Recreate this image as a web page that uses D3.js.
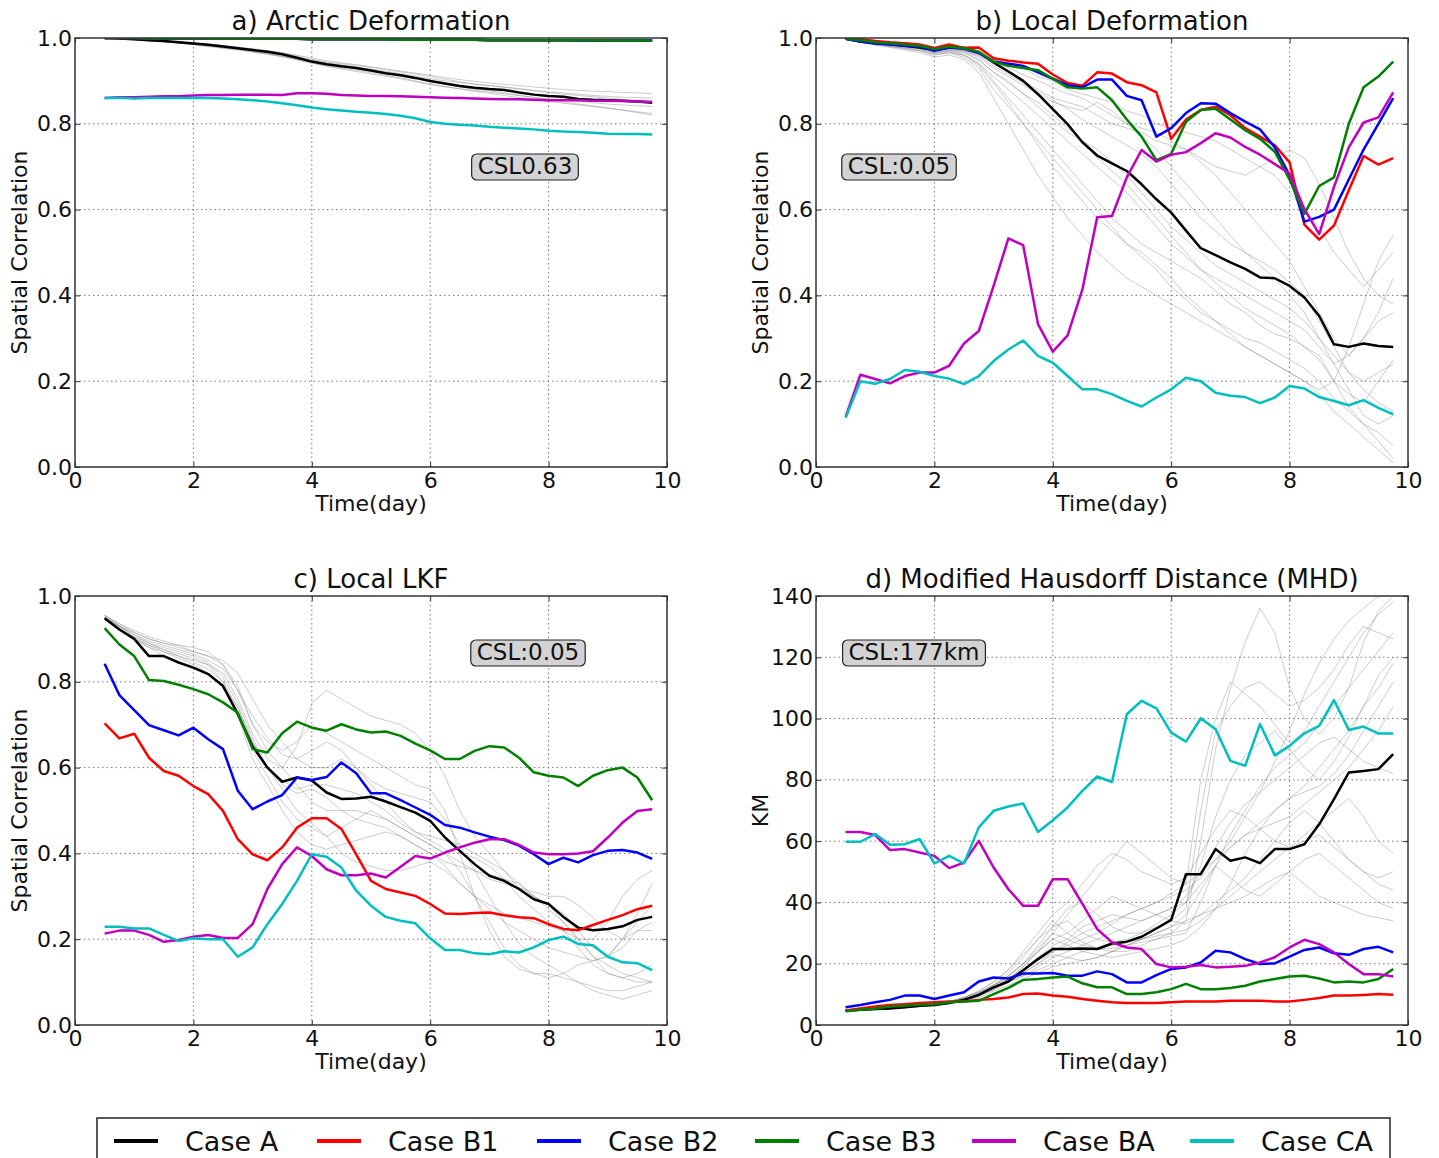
<!DOCTYPE html>
<html>
<head>
<meta charset="utf-8">
<script src="https://cdn.jsdelivr.net/npm/d3@7"></script>
<style>
  body { margin: 0; background: #fff; }
  text { font-family: "DejaVu Sans", sans-serif; fill: #111; }
</style>
</head>
<body>
<svg id="fig" width="1439" height="1158"></svg>
<script>
// time axis (days), one sample every 6 h
var times = [0.5,0.75,1,1.25,1.5,1.75,2,2.25,2.5,2.75,3,3.25,3.5,3.75,4,4.25,4.5,4.75,5,5.25,5.5,5.75,6,6.25,6.5,6.75,7,7.25,7.5,7.75,8,8.25,8.5,8.75,9,9.25,9.5,9.75];

var caseNames  = ['Case A','Case B1','Case B2','Case B3','Case BA','Case CA'];
var caseColors = ['#000000','#ff0000','#0000ff','#008000','#bf00bf','#00bfbf'];

var xTicks = [0,2,4,6,8,10];
var corrTicks = [0,0.2,0.4,0.6,0.8,1.0];
var kmTicks = [0,20,40,60,80,100,120,140];

// a) Arctic Deformation
var aA  = [1,.999,.997,.995,.993,.99,.987,.984,.98,.976,.972,.968,.962,.954,.945,.939,.934,.93,.924,.918,.913,.907,.9,.894,.888,.884,.881,.879,.873,.868,.865,.863,.858,.856,.855,.854,.852,.849];
var aB1 = [1,1,1,.999,.999,.999,.999,.999,.998,.998,.998,.998,.998,.998,.997,.997,.997,.997,.997,.997,.996,.996,.996,.996,.996,.996,.995,.995,.995,.995,.995,.995,.994,.994,.994,.994,.994,.994];
var aB2 = [1,1,1,.999,.999,.999,.999,.999,.998,.998,.998,.998,.998,.998,.997,.997,.997,.997,.997,.997,.996,.996,.996,.996,.996,.996,.995,.995,.995,.995,.995,.995,.994,.994,.994,.994,.994,.994];
var aB3 = [1,1,1,.999,.999,.999,.999,.999,.998,.998,.998,.998,.998,.998,.997,.997,.997,.997,.997,.997,.996,.996,.996,.996,.996,.996,.995,.995,.995,.995,.995,.995,.995,.995,.994,.994,.994,.994];
var aBA = [.86,.862,.862,.863,.864,.864,.866,.867,.867,.868,.868,.868,.867,.871,.871,.87,.867,.866,.865,.865,.864,.863,.862,.861,.86,.859,.858,.857,.857,.856,.855,.855,.855,.854,.854,.853,.852,.851];
var aCA = [.86,.861,.859,.86,.86,.86,.86,.86,.859,.857,.855,.852,.848,.843,.838,.834,.831,.828,.826,.823,.819,.813,.804,.8,.798,.796,.793,.791,.789,.787,.784,.782,.781,.779,.777,.776,.776,.775];
var aGrey = [
  [1,.999,.998,.996,.994,.992,.989,.986,.983,.979,.975,.971,.966,.96,.953,.947,.942,.938,.933,.928,.923,.918,.913,.908,.903,.899,.895,.892,.889,.886,.883,.88,.878,.876,.875,.873,.872,.87],
  [1,.998,.996,.994,.991,.988,.985,.981,.977,.973,.968,.963,.957,.95,.942,.935,.93,.925,.919,.913,.907,.9,.893,.887,.881,.876,.871,.866,.861,.857,.852,.848,.844,.84,.836,.832,.828,.824],
  [1,.999,.997,.995,.993,.991,.988,.985,.982,.978,.974,.97,.965,.958,.95,.944,.94,.936,.931,.926,.921,.916,.91,.904,.898,.893,.889,.886,.882,.878,.874,.872,.869,.866,.864,.862,.861,.86],
  [1,.998,.996,.993,.991,.988,.984,.98,.976,.972,.967,.962,.956,.949,.941,.934,.928,.922,.916,.911,.905,.898,.891,.886,.882,.878,.874,.87,.866,.862,.858,.855,.852,.849,.846,.844,.842,.84],
  [1,.999,.997,.995,.992,.989,.986,.983,.98,.976,.971,.966,.961,.955,.948,.942,.937,.932,.927,.922,.917,.911,.905,.9,.896,.892,.889,.885,.881,.877,.873,.869,.866,.863,.86,.857,.855,.853],
  [1,.998,.997,.994,.992,.989,.986,.982,.978,.974,.969,.964,.958,.951,.944,.938,.933,.928,.922,.917,.911,.905,.899,.892,.886,.881,.877,.872,.866,.861,.856,.851,.846,.842,.837,.832,.826,.82]
];

// b) Local Deformation
var bA  = [.998,.992,.988,.986,.982,.978,.972,.978,.977,.967,.943,.922,.9,.869,.834,.799,.757,.726,.708,.69,.659,.624,.593,.551,.51,.494,.477,.462,.442,.44,.422,.395,.352,.286,.28,.288,.282,.28];
var bB1 = [.998,.997,.993,.99,.988,.985,.977,.985,.977,.978,.953,.947,.943,.94,.915,.895,.889,.92,.917,.897,.89,.873,.765,.81,.832,.84,.82,.79,.77,.75,.71,.565,.53,.563,.645,.725,.705,.72];
var bB2 = [.998,.992,.988,.985,.982,.98,.97,.978,.975,.965,.945,.94,.935,.92,.905,.89,.885,.903,.903,.865,.855,.77,.79,.825,.848,.847,.825,.805,.787,.745,.68,.572,.583,.6,.67,.74,.8,.86];
var bB3 = [.998,.995,.99,.988,.985,.982,.974,.98,.976,.968,.945,.935,.93,.925,.905,.885,.882,.885,.855,.81,.77,.715,.73,.805,.832,.835,.81,.785,.765,.735,.67,.59,.655,.675,.8,.885,.91,.945];
var bBA = [.117,.215,.205,.195,.212,.22,.22,.236,.288,.317,.422,.533,.517,.333,.269,.307,.414,.582,.585,.675,.739,.712,.728,.734,.755,.778,.768,.746,.728,.706,.684,.601,.543,.653,.745,.803,.815,.873];
var bCA = [.115,.2,.194,.205,.226,.222,.212,.206,.193,.212,.247,.274,.295,.259,.243,.212,.181,.181,.17,.154,.141,.162,.181,.208,.2,.173,.166,.163,.149,.162,.189,.183,.163,.154,.144,.156,.138,.123];
var bGrey = [
  [.998,.99,.985,.98,.975,.97,.96,.965,.955,.93,.88,.84,.8,.76,.72,.68,.64,.6,.56,.52,.49,.46,.42,.39,.36,.34,.32,.3,.29,.27,.25,.23,.2,.16,.13,.1,.06,.02],
  [.998,.992,.988,.984,.98,.976,.968,.972,.968,.95,.92,.9,.87,.85,.82,.79,.76,.72,.69,.66,.62,.58,.54,.5,.46,.43,.4,.37,.35,.33,.31,.28,.25,.2,.17,.15,.2,.25],
  [.999,.995,.99,.988,.985,.98,.975,.978,.975,.965,.95,.94,.93,.91,.9,.88,.87,.86,.85,.83,.82,.8,.79,.78,.77,.76,.74,.72,.7,.72,.74,.72,.66,.58,.5,.44,.4,.38],
  [.998,.99,.984,.98,.976,.97,.962,.966,.96,.94,.9,.86,.82,.78,.74,.7,.66,.62,.58,.55,.52,.5,.48,.46,.44,.41,.38,.36,.33,.31,.3,.28,.26,.2,.14,.1,.08,.05],
  [.999,.994,.99,.986,.982,.978,.97,.975,.97,.955,.93,.91,.89,.87,.85,.84,.83,.85,.83,.8,.77,.74,.7,.66,.62,.58,.54,.5,.47,.44,.4,.36,.3,.24,.18,.12,.1,.12],
  [.998,.992,.986,.982,.978,.974,.965,.97,.962,.94,.91,.88,.85,.82,.79,.76,.73,.7,.67,.64,.6,.56,.52,.49,.46,.44,.42,.4,.38,.36,.34,.32,.28,.24,.26,.3,.34,.36],
  [.999,.993,.989,.985,.981,.977,.972,.976,.972,.96,.94,.92,.9,.88,.86,.85,.84,.82,.8,.79,.78,.76,.75,.74,.72,.7,.69,.68,.7,.68,.64,.6,.56,.5,.46,.42,.46,.5],
  [.998,.991,.985,.981,.977,.972,.964,.968,.96,.935,.895,.85,.8,.75,.7,.66,.62,.58,.55,.52,.5,.47,.44,.4,.37,.34,.31,.28,.26,.24,.22,.2,.17,.13,.1,.07,.04,.01],
  [.999,.994,.99,.986,.983,.979,.971,.974,.97,.958,.935,.915,.895,.875,.855,.835,.81,.79,.77,.75,.73,.7,.66,.62,.58,.55,.52,.5,.48,.46,.43,.4,.34,.28,.22,.2,.22,.24],
  [.998,.992,.987,.983,.979,.975,.967,.971,.966,.948,.92,.895,.87,.84,.81,.78,.76,.74,.71,.68,.64,.6,.56,.53,.5,.47,.45,.43,.41,.39,.37,.34,.3,.26,.22,.18,.15,.13],
  [.998,.99,.984,.978,.972,.966,.956,.96,.95,.92,.86,.8,.74,.68,.63,.58,.54,.5,.47,.44,.42,.4,.38,.36,.34,.32,.3,.28,.26,.24,.22,.2,.18,.2,.28,.38,.48,.54],
  [.999,.995,.991,.987,.984,.98,.974,.977,.973,.962,.945,.93,.915,.9,.885,.87,.86,.84,.82,.8,.79,.78,.76,.74,.71,.68,.64,.6,.56,.52,.48,.42,.36,.3,.26,.3,.36,.44]
];

// c) Local LKF
var cA  = [.948,.922,.9,.86,.86,.845,.833,.818,.79,.725,.65,.6,.567,.577,.57,.542,.527,.528,.532,.521,.508,.495,.476,.437,.406,.375,.348,.336,.317,.293,.282,.252,.227,.221,.224,.23,.245,.252];
var cB1 = [.703,.668,.679,.623,.592,.581,.557,.538,.499,.433,.398,.384,.414,.46,.482,.482,.457,.398,.336,.317,.309,.301,.282,.26,.259,.261,.262,.256,.251,.249,.235,.224,.221,.233,.245,.256,.27,.278];
var cB2 = [.842,.769,.734,.699,.687,.675,.693,.666,.643,.546,.503,.521,.536,.577,.571,.578,.612,.587,.54,.54,.524,.507,.49,.466,.46,.449,.439,.431,.418,.398,.375,.39,.379,.396,.406,.408,.402,.387];
var cB3 = [.925,.887,.86,.804,.802,.793,.783,.771,.752,.728,.643,.635,.68,.707,.693,.686,.701,.689,.682,.684,.674,.656,.64,.62,.62,.639,.65,.647,.623,.589,.581,.577,.557,.581,.594,.6,.577,.524];
var cBA = [.213,.22,.22,.21,.194,.198,.206,.21,.203,.203,.235,.317,.375,.414,.394,.363,.349,.349,.353,.344,.369,.394,.388,.402,.414,.425,.433,.433,.42,.402,.398,.398,.4,.405,.437,.472,.499,.503];
var cCA = [.229,.229,.225,.225,.21,.196,.202,.2,.2,.159,.181,.235,.282,.336,.398,.392,.367,.313,.278,.252,.243,.237,.202,.175,.175,.167,.165,.172,.169,.181,.198,.206,.189,.186,.159,.146,.144,.128];
var cGrey = [
  [.955,.93,.91,.89,.875,.86,.845,.83,.8,.74,.66,.6,.56,.54,.55,.53,.5,.48,.47,.46,.44,.42,.4,.37,.33,.3,.27,.24,.22,.2,.18,.17,.16,.15,.16,.2,.24,.28],
  [.95,.93,.915,.9,.89,.885,.88,.87,.84,.78,.7,.66,.64,.66,.7,.68,.66,.64,.62,.6,.58,.56,.55,.5,.4,.3,.22,.16,.13,.12,.12,.11,.1,.09,.08,.08,.09,.1],
  [.945,.925,.9,.88,.87,.86,.85,.84,.82,.76,.68,.62,.6,.65,.75,.78,.76,.74,.72,.71,.7,.68,.64,.58,.5,.44,.4,.36,.32,.3,.28,.26,.22,.18,.16,.18,.22,.24],
  [.95,.92,.9,.885,.87,.855,.84,.82,.79,.72,.62,.56,.5,.45,.42,.41,.42,.43,.44,.45,.44,.42,.4,.38,.37,.36,.35,.34,.33,.3,.28,.24,.2,.16,.14,.12,.11,.1],
  [.955,.935,.92,.905,.895,.885,.87,.86,.85,.82,.76,.7,.66,.62,.6,.6,.62,.6,.56,.52,.48,.45,.43,.41,.4,.39,.37,.34,.3,.27,.24,.22,.18,.14,.12,.11,.12,.14],
  [.948,.928,.905,.89,.88,.87,.86,.845,.81,.75,.67,.6,.55,.5,.47,.44,.4,.38,.37,.36,.36,.37,.38,.36,.33,.3,.28,.26,.25,.24,.23,.22,.2,.2,.24,.3,.34,.36],
  [.952,.93,.91,.895,.885,.875,.865,.85,.83,.78,.72,.67,.63,.62,.64,.66,.64,.6,.57,.55,.54,.53,.52,.48,.42,.36,.3,.24,.19,.16,.14,.12,.1,.08,.07,.06,.07,.08],
  [.95,.93,.905,.885,.875,.865,.855,.84,.8,.73,.64,.58,.52,.48,.46,.44,.46,.48,.5,.48,.46,.44,.42,.4,.38,.36,.34,.33,.32,.31,.3,.3,.28,.25,.22,.2,.22,.22],
  [.955,.935,.915,.9,.89,.88,.87,.86,.84,.79,.7,.64,.6,.56,.52,.5,.5,.5,.49,.48,.46,.44,.42,.4,.36,.3,.24,.18,.14,.12,.11,.12,.14,.15,.16,.2,.26,.33],
  [.945,.92,.9,.88,.86,.845,.83,.82,.79,.74,.66,.6,.57,.55,.56,.56,.55,.54,.52,.5,.47,.45,.44,.43,.42,.4,.38,.36,.33,.3,.27,.24,.2,.16,.12,.11,.1,.1]
];

// d) Modified Hausdorff Distance (km)
var dA  = [4.7,5,5.2,5.4,5.8,6.3,6.5,7.2,8.2,9.8,12.3,14.2,17.9,21.5,24.8,24.8,25,24.8,26.6,27.2,28.8,31.5,34.3,49.2,49.2,57.4,53.6,54.7,52.8,57.4,57.4,59,65.5,73.7,82.4,82.9,83.5,88.4];
var dB1 = [4.7,5.4,6,6.5,6.8,7.2,7.4,7.7,7.7,8.2,8.5,9,10.1,10.3,9.6,9.2,8.5,7.9,7.4,7.2,7.2,7.2,7.4,7.7,7.7,7.7,7.9,7.9,7.9,7.7,7.7,8.2,8.8,9.6,9.6,9.8,10.1,9.9];
var dB2 = [5.8,6.5,7.4,8.2,9.6,9.6,8.5,9.6,10.7,14.2,15.5,15.2,16.8,16.8,17,16.1,16.1,17.5,16.6,13.9,13.9,16.3,18.3,18.8,20.4,24.2,23.7,21.5,19.9,20.1,22.3,24.5,25.3,23.4,22.9,24.8,25.5,23.7];
var dB3 = [4.5,5,5.4,6,6.3,6.6,6.8,7.4,7.7,7.9,10.1,12.1,14.7,15,15.5,15.8,13.6,12.3,12.3,10.1,10.1,10.7,11.7,13.4,11.7,11.7,12.1,12.8,14.2,15,15.8,16.1,15.2,13.9,14.2,13.9,15,18.3];
var dBA = [63,63,62,57.1,57.4,56.3,55.2,51.2,53,60.1,51.4,44.3,38.9,38.9,47.6,47.6,39.5,31.3,27,25.3,24.8,19.9,18.8,19,19.6,18.8,19,19.3,20.4,22.1,25.3,27.8,26.4,23.7,19.9,16.6,16.6,15.8];
var dCA = [59.8,59.8,62.3,58.8,59,60.7,52.7,55.2,52.7,64.5,69.9,71.3,72.3,63,66.8,71,76.4,81.1,79.3,101.4,105.8,103.3,95.4,92.5,100.1,96.5,86.2,84.6,98.2,88,91.1,95.2,97.6,106,96.3,97.4,95.1,95.1];
var dGrey = [
  [4.5,4.8,5,5.3,5.6,6,6.4,7,8,10,13,17,22,28,34,30,27,25,24,24,26,28,30,34,60,90,110,125,136,128,110,100,95,100,110,125,135,140],
  [4.8,5,5.2,5.5,5.8,6.2,6.6,7.2,8.5,10,12,14,17,20,23,22,21,22,24,26,28,30,32,36,44,52,58,62,66,70,74,78,84,90,96,104,110,118],
  [4.6,4.9,5.2,5.5,5.9,6.3,6.8,7.5,9,11,14,18,23,28,32,34,30,28,27,28,30,33,36,40,46,52,48,44,42,46,50,54,56,52,48,44,40,38],
  [5,5.2,5.4,5.7,6,6.4,6.9,7.6,8.8,10.5,13,15,18,22,26,28,32,34,36,35,34,36,38,40,52,68,80,88,92,96,90,84,80,86,94,104,114,120],
  [4.7,5,5.3,5.6,5.9,6.2,6.6,7.1,8,9.5,11.5,14,16,19,22,24,26,28,30,32,34,36,38,42,50,58,66,72,76,80,84,88,92,94,90,86,84,82],
  [4.9,5.1,5.3,5.6,6,6.5,7,7.8,9,11,14,18,24,30,36,40,46,52,56,54,50,48,46,48,56,64,70,68,64,60,58,62,66,70,74,68,60,56],
  [4.6,4.8,5.1,5.4,5.7,6,6.4,7,7.8,9,11,13,15,17,19,20,21,22,24,26,28,30,32,34,36,38,40,42,45,48,50,46,42,40,38,36,35,34],
  [4.8,5,5.2,5.5,5.9,6.3,6.8,7.4,8.5,10,12.5,16,20,26,32,38,40,36,32,30,30,32,34,38,70,96,104,110,112,108,104,106,110,116,124,130,128,126],
  [4.5,4.7,5,5.3,5.6,6,6.5,7.2,8.2,9.8,12,15,18,21,24,26,28,30,33,36,38,40,43,46,50,54,58,62,64,66,68,72,76,80,84,90,96,104],
  [4.7,4.9,5.2,5.5,5.8,6.2,6.7,7.3,8.4,10,12,14,16,18,20,22,24,25,26,27,28,29,30,31,34,38,42,46,50,54,58,60,62,58,54,50,46,44],
  [4.6,4.9,5.1,5.4,5.8,6.2,6.7,7.4,8.8,10.5,13,16,20,25,30,28,26,25,25,26,27,28,29,30,40,52,62,70,78,84,88,92,98,104,110,116,122,128],
  [4.8,5,5.3,5.6,5.9,6.3,6.8,7.5,8.6,10,12,15,19,24,28,30,34,38,42,40,38,36,34,33,36,40,44,48,54,60,66,70,66,60,54,50,48,50],
  [4.7,4.9,5.2,5.5,5.8,6.2,6.7,7.3,8.3,9.8,12,15,19,24,30,36,42,48,54,60,56,52,48,46,80,100,112,108,104,98,92,96,104,112,120,128,134,138],
  [4.6,4.8,5.1,5.4,5.7,6.1,6.6,7.2,8.2,9.6,11.5,14,17,20,24,27,30,32,34,36,38,40,42,44,48,54,60,68,76,86,96,108,118,126,132,136,140,140],
  [4.9,5.1,5.4,5.7,6,6.4,6.9,7.6,8.9,10.6,13,16,20,24,28,26,24,23,22,23,24,25,26,28,32,38,46,56,64,70,74,76,78,82,88,96,104,112]
];

var svg = d3.select('#fig');
var W = 592, H = 429;

function drawPanel(p, idx){
  var x = d3.scaleLinear().domain([0,10]).range([0,W]);
  var y = d3.scaleLinear().domain([0,p.yMax]).range([H,0]);
  var g = svg.append('g').attr('transform','translate('+p.left+','+p.top+')');

  g.append('clipPath').attr('id','clip'+idx)
    .append('rect').attr('width',W).attr('height',H);

  // dotted grid
  g.append('g').selectAll('line').data(xTicks.slice(1,-1)).enter().append('line')
    .attr('x1',d=>x(d)).attr('x2',d=>x(d)).attr('y1',0).attr('y2',H)
    .attr('stroke','#777').attr('stroke-width',1).attr('stroke-dasharray','1.5,3');
  g.append('g').selectAll('line').data(p.yTicks.slice(1,-1)).enter().append('line')
    .attr('x1',0).attr('x2',W).attr('y1',d=>y(d)).attr('y2',d=>y(d))
    .attr('stroke','#777').attr('stroke-width',1).attr('stroke-dasharray','1.5,3');

  var line = d3.line().x((d,i)=>x(times[i])).y(d=>y(d));
  var plot = g.append('g').attr('clip-path','url(#clip'+idx+')');

  plot.selectAll('path.ens').data(p.greys).enter().append('path')
    .attr('class','ens').attr('d',line).attr('fill','none')
    .attr('stroke','#808080').attr('stroke-opacity',0.4).attr('stroke-width',1);

  plot.selectAll('path.case').data(p.cases).enter().append('path')
    .attr('class','case').attr('d',line).attr('fill','none')
    .attr('stroke',(d,i)=>caseColors[i]).attr('stroke-width',2.5)
    .attr('stroke-linejoin','round');

  // axes with inward ticks on all sides
  var fs = 22;
  var bottom = g.append('g').attr('transform','translate(0,'+H+')')
    .call(d3.axisBottom(x).tickValues(xTicks).tickSizeInner(-5).tickSizeOuter(0).tickPadding(5).tickFormat(d3.format('d')));
  var left = g.append('g')
    .call(d3.axisLeft(y).tickValues(p.yTicks).tickSizeInner(-5).tickSizeOuter(0).tickPadding(3).tickFormat(p.fmt));
  g.append('g').call(d3.axisTop(x).tickValues(xTicks).tickSizeInner(-5).tickSizeOuter(0).tickFormat(''));
  g.append('g').attr('transform','translate('+W+',0)')
    .call(d3.axisRight(y).tickValues(p.yTicks).tickSizeInner(-5).tickSizeOuter(0).tickFormat(''));
  g.selectAll('.domain').remove();
  g.selectAll('.tick line').attr('stroke','#333');
  [bottom,left].forEach(function(a){
    a.attr('font-size',null).attr('font-family',null);
    a.selectAll('text').attr('font-size',fs).style('fill','#111');
  });

  g.append('rect').attr('width',W).attr('height',H)
    .attr('fill','none').attr('stroke','#333').attr('stroke-width',1.5);

  g.append('text').attr('x',W/2).attr('y',-8).attr('text-anchor','middle')
    .attr('font-size',26).text(p.title);
  g.append('text').attr('x',W/2).attr('y',H+44).attr('text-anchor','middle')
    .attr('font-size',22).text('Time(day)');
  g.append('text').attr('transform','translate(-48,'+(H/2)+') rotate(-90)')
    .attr('text-anchor','middle').attr('font-size',22).text(p.ylabel);

  // CSL annotation box
  var box = g.append('g');
  var r = box.append('rect');
  var t = box.append('text').attr('x',p.cslX).attr('y',p.cslY+8)
    .attr('text-anchor','middle').attr('font-size',23).text(p.csl);
  var bb = t.node().getBBox();
  r.attr('x',bb.x-6).attr('y',bb.y+1).attr('width',bb.width+12).attr('height',bb.height)
    .attr('rx',5).attr('fill','#d3d3d3').attr('stroke','#222').attr('stroke-width',1.2);
}

var corrFmt = d3.format('.1f');
var kmFmt = d3.format('d');

var panels = [
  {left:75,  top:38,  title:'a) Arctic Deformation', ylabel:'Spatial Correlation', yMax:1, yTicks:corrTicks, fmt:corrFmt,
   csl:'CSL0.63', cslX:450, cslY:128, greys:aGrey, cases:[aA,aB1,aB2,aB3,aBA,aCA]},
  {left:816, top:38,  title:'b) Local Deformation', ylabel:'Spatial Correlation', yMax:1, yTicks:corrTicks, fmt:corrFmt,
   csl:'CSL:0.05', cslX:83, cslY:128, greys:bGrey, cases:[bA,bB1,bB2,bB3,bBA,bCA]},
  {left:75,  top:596, title:'c) Local LKF', ylabel:'Spatial Correlation', yMax:1, yTicks:corrTicks, fmt:corrFmt,
   csl:'CSL:0.05', cslX:453, cslY:56, greys:cGrey, cases:[cA,cB1,cB2,cB3,cBA,cCA]},
  {left:816, top:596, title:'d) Modified Hausdorff Distance (MHD)', ylabel:'KM', yMax:140, yTicks:kmTicks, fmt:kmFmt,
   csl:'CSL:177km', cslX:98, cslY:56, greys:dGrey, cases:[dA,dB1,dB2,dB3,dBA,dCA]}
];
panels.forEach(drawPanel);

// legend (entries packed by text width, as matplotlib does)
var legendX = [114,317,537,755,972,1190];
var leg = svg.append('g');
leg.append('rect').attr('x',97).attr('y',1118).attr('width',1293).attr('height',60)
  .attr('fill','#fff').attr('stroke','#222').attr('stroke-width',1.5);
var items = leg.selectAll('g.item').data(caseNames).enter().append('g')
  .attr('transform',(d,i)=>'translate('+legendX[i]+',0)');
items.append('line').attr('x1',0).attr('x2',44).attr('y1',1141).attr('y2',1141)
  .attr('stroke',(d,i)=>caseColors[i]).attr('stroke-width',4);
items.append('text').attr('x',71).attr('y',1151).attr('font-size',27).text(d=>d);
</script>
</body>
</html>
